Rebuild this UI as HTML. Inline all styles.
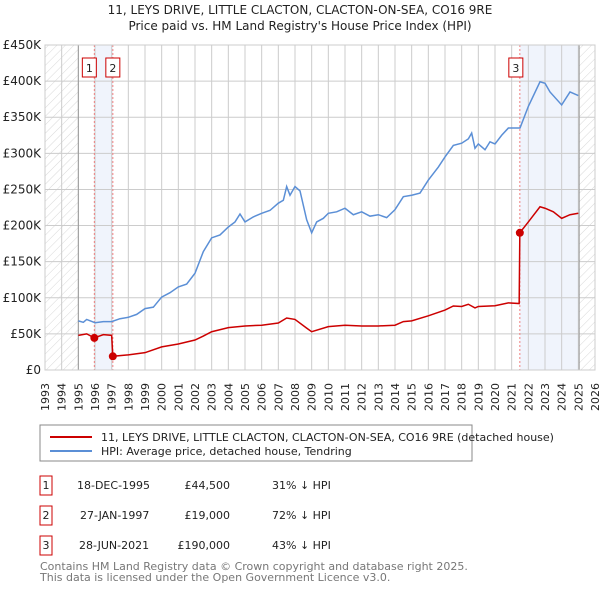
<!DOCTYPE html>
<html><head><meta charset="utf-8"><style>
body{margin:0;background:#fff;font-family:"Liberation Sans","DejaVu Sans",sans-serif;}
svg text{font-family:"DejaVu Sans","Liberation Sans",sans-serif;}
</style></head><body>
<svg id="c" width="600" height="590" xmlns="http://www.w3.org/2000/svg">
<text x="300" y="14" text-anchor="middle" font-size="12" fill="#222">11, LEYS DRIVE, LITTLE CLACTON, CLACTON-ON-SEA, CO16 9RE</text>
<text x="300" y="30" text-anchor="middle" font-size="12" fill="#222">Price paid vs. HM Land Registry's House Price Index (HPI)</text>
<defs><pattern id="h" width="6" height="6" patternUnits="userSpaceOnUse" patternTransform="rotate(45)"><line x1="0" y1="0" x2="0" y2="6" stroke="#d8d8d8" stroke-width="1"/></pattern></defs>
<g id="g"></g>
<rect x="40" y="425" width="432" height="36" fill="#fff" stroke="#888"/>
<line x1="50" y1="437" x2="92" y2="437" stroke="#cc0000" stroke-width="2"/>
<text x="101" y="441" font-size="11" fill="#222">11, LEYS DRIVE, LITTLE CLACTON, CLACTON-ON-SEA, CO16 9RE (detached house)</text>
<line x1="50" y1="451" x2="92" y2="451" stroke="#5b8fd6" stroke-width="2"/>
<text x="101" y="455" font-size="11" fill="#222">HPI: Average price, detached house, Tendring</text>
<g font-size="11" fill="#222">
<rect x="40" y="476" width="12" height="19" fill="none" stroke="#cc0000"/><text x="46" y="489" text-anchor="middle">1</text>
<text x="77" y="489">18-DEC-1995</text><text x="230" y="489" text-anchor="end">£44,500</text><text x="272" y="489">31% ↓ HPI</text>
<rect x="40" y="506" width="12" height="19" fill="none" stroke="#cc0000"/><text x="46" y="519" text-anchor="middle">2</text>
<text x="80" y="519">27-JAN-1997</text><text x="230" y="519" text-anchor="end">£19,000</text><text x="272" y="519">72% ↓ HPI</text>
<rect x="40" y="536" width="12" height="19" fill="none" stroke="#cc0000"/><text x="46" y="549" text-anchor="middle">3</text>
<text x="79" y="549">28-JUN-2021</text><text x="230" y="549" text-anchor="end">£190,000</text><text x="272" y="549">43% ↓ HPI</text>
</g>
<text x="40" y="570" font-size="11" fill="#777">Contains HM Land Registry data © Crown copyright and database right 2025.</text>
<text x="40" y="581" font-size="11" fill="#777">This data is licensed under the Open Government Licence v3.0.</text>
</svg>
<script>
const hpiYears=[1995,1995.3,1995.5,1996,1996.5,1997,1997.5,1998,1998.5,1999,1999.5,2000,2000.5,2001,2001.5,2002,2002.5,2003,2003.5,2004,2004.4,2004.7,2005,2005.5,2006,2006.5,2007,2007.3,2007.5,2007.7,2008,2008.3,2008.7,2009,2009.3,2009.7,2010,2010.5,2011,2011.5,2012,2012.5,2013,2013.5,2014,2014.5,2015,2015.5,2016,2016.6,2017,2017.5,2018,2018.4,2018.6,2018.8,2019,2019.4,2019.7,2020,2020.4,2020.8,2021.5,2022,2022.7,2023,2023.3,2024,2024.5,2025];
const hpiValues=[68,66,70,65.5,67,67,71,73,77,85,87,101,107,115,119,134,164,183,187,198,205,216,205,212,217,221,231,235,254,242,254,248,208,190,205,210,217,219,224,215,219,213,215,211,222,240,242,245,263,281,295,311,314,320,328,307,313,305,316,313,325,335,335,365,399,397,385,367,385,380];
const priceYears=[1995,1995.5,1995.96,1996.5,1997.0,1997.07,1998,1999,2000,2001,2002,2002.5,2003,2004,2005,2006,2007,2007.5,2008,2008.7,2009,2010,2011,2012,2013,2014,2014.5,2015,2016,2017,2017.5,2018,2018.4,2018.8,2019,2020,2020.8,2021.45,2021.49,2022,2022.7,2023,2023.5,2024,2024.5,2025];
const priceValues=[48,50,44.5,49,48,19,21,24,32,36,41.5,47,53,58.6,61,62,65,72,70,58,53,60,62,61,61,62,67,68,75,83,88.6,88,91,86,88,89,93,92,190,205,226,224,219,210,215,217];
const saleYears=[1995.96,1997.07,2021.49];
const saleValues=[44.5,19,190];
const saleLabels=["1","2","3"];
const yTicks=[0,50,100,150,200,250,300,350,400,450];
const yTickLabels=["£0","£50K","£100K","£150K","£200K","£250K","£300K","£350K","£400K","£450K"];
const xTicks=[1993,1994,1995,1996,1997,1998,1999,2000,2001,2002,2003,2004,2005,2006,2007,2008,2009,2010,2011,2012,2013,2014,2015,2016,2017,2018,2019,2020,2021,2022,2023,2024,2025,2026];
const L=45,R=595,T=45,B=370;
const X=y=>L+(y-1993)*(R-L)/33;
const Y=v=>B-v*(B-T)/450;
const g=document.getElementById('g');
const NS='http://www.w3.org/2000/svg';
function mk(t,a,parent){const e=document.createElementNS(NS,t);for(const k in a)e.setAttribute(k,a[k]);(parent||g).appendChild(e);return e;}
let e;
e=mk('rect',{x:L,y:T,width:R-L,height:B-T,fill:'#fff'});


e=mk('rect',{x:L,y:T,width:X(1995)-L,height:B-T,fill:'url(#h)'});


e=mk('rect',{x:X(2025.05),y:T,width:R-X(2025.05),height:B-T,fill:'url(#h)'});


e=mk('rect',{x:X(saleYears[0]),y:T,width:X(saleYears[1])-X(saleYears[0]),height:B-T,fill:'#f0f4fc'});


e=mk('rect',{x:X(saleYears[2]),y:T,width:X(2025.05)-X(saleYears[2]),height:B-T,fill:'#f0f4fc'});


xTicks.forEach(t=>{
 e=mk('line',{x1:X(t),y1:T,x2:X(t),y2:B,stroke:'#ccc','stroke-width':1});
 
 
 e=mk('text',{x:0,y:0,transform:`translate(${X(t)+4},${B+13}) rotate(-90)`,'text-anchor':'end','font-size':11,fill:'#222'});
 e.textContent=t;
 
 
});
yTicks.forEach((t,i)=>{
 e=mk('line',{x1:L,y1:Y(t),x2:R,y2:Y(t),stroke:'#ccc','stroke-width':1});
 
 
 e=mk('text',{x:L-4,y:Y(t)+4,'text-anchor':'end','font-size':12,fill:'#222'});
 e.textContent=yTickLabels[i];
 
 
});
e=mk('line',{x1:X(1995),y1:T,x2:X(1995),y2:B,stroke:'#999'});


e=mk('line',{x1:X(2025.05),y1:T,x2:X(2025.05),y2:B,stroke:'#999'});


saleYears.forEach((s,i)=>{
 e=mk('line',{x1:X(s),y1:T,x2:X(s),y2:B,stroke:'#f08080','stroke-dasharray':'2,2','stroke-width':1});
 
 
});
e=mk('polyline',{points:hpiYears.map((y,i)=>X(y)+','+Y(hpiValues[i])).join(' '),fill:'none',stroke:'#5b8fd6','stroke-width':1.5});


e=mk('polyline',{points:priceYears.map((y,i)=>X(y)+','+Y(priceValues[i])).join(' '),fill:'none',stroke:'#cc0000','stroke-width':1.5});


saleYears.forEach((s,i)=>{
 e=mk('circle',{cx:X(s),cy:Y(saleValues[i]),r:4,fill:'#cc0000'});
 
 
 const lx=i==0?X(s)-11:i==1?X(s)-6:X(s)-10;
 e=mk('rect',{x:lx-1,y:58,width:14,height:19,fill:'#fff',stroke:'#cc0000'});
 
 
 e=mk('text',{x:lx+6,y:72,'text-anchor':'middle','font-size':11,fill:'#222'});
 e.textContent=saleLabels[i];
 
 
});
e=mk('rect',{x:L,y:T,width:R-L,height:B-T,fill:'none',stroke:'#ccc'});


</script>
</body></html>
